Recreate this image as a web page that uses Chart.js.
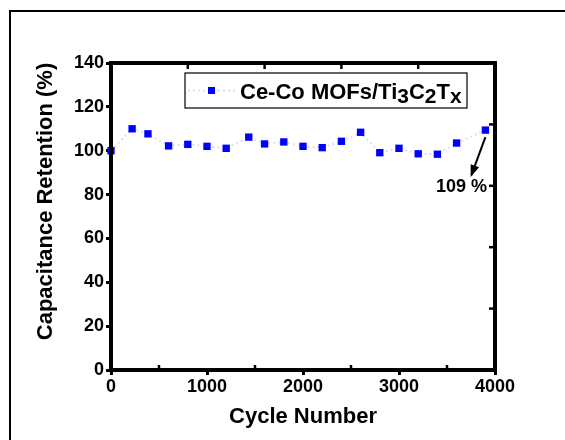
<!DOCTYPE html>
<html><head><meta charset="utf-8">
<script src="https://cdn.jsdelivr.net/npm/chart.js@4/dist/chart.umd.min.js"></script>
<style>html,body{margin:0;padding:0;background:#fff}#wrap{width:565px;height:440px}</style>
</head><body><div id="wrap"><canvas id="c" width="565" height="440"></canvas></div>
<script>
const cycles = [0, 220, 385, 600, 800, 1000, 1200, 1435, 1600, 1800, 2000, 2200, 2400, 2600, 2800, 3000, 3200, 3400, 3600, 3900];
const retention = [100, 110, 107.7, 102.2, 102.9, 102, 101.1, 106.2, 103.1, 104, 102, 101.4, 104.3, 108.4, 99.1, 101.1, 98.6, 98.4, 103.5, 109.4];
const seriesName = ['Ce-Co MOFs/Ti', '3', 'C', '2', 'T', 'x'];
const annotationText = '109 %';
const yTitle = 'Capacitance Retention (%)';
const xTitle = 'Cycle Number';

const FONT = '"Liberation Sans", Arial, sans-serif';
const lineColor = 'rgba(185,185,255,0.5)';
const pointColor = '#0000ff';

const decor = {
  id: 'decor',
  beforeDraw(chart) {
    const ctx = chart.ctx;
    ctx.save();
    ctx.fillStyle = '#fff';
    ctx.fillRect(0, 0, chart.width, chart.height);
    ctx.strokeStyle = '#000';
    ctx.lineWidth = 2;
    ctx.beginPath();
    ctx.moveTo(10, chart.height + 5);
    ctx.lineTo(10, 11);
    ctx.lineTo(chart.width + 5, 11);
    ctx.stroke();
    ctx.restore();
  },
  afterDraw(chart) {
    const ctx = chart.ctx;
    const a = chart.chartArea;
    const x = chart.scales.x, y = chart.scales.y;
    ctx.save();
    // frame
    ctx.strokeStyle = '#000';
    ctx.lineWidth = 4;
    ctx.strokeRect(a.left, a.top, a.right - a.left, a.bottom - a.top);
    // inward ticks right
    ctx.lineWidth = 2.5;
    const yR = chart.scales.yR;
    yR.ticks.forEach(t => {
      const py = yR.getPixelForValue(t.value);
      ctx.beginPath(); ctx.moveTo(a.right, py); ctx.lineTo(a.right - 6, py); ctx.stroke();
    });
    const xT = chart.scales.xT;
    xT.ticks.forEach(t => {
      const px = xT.getPixelForValue(t.value);
      ctx.beginPath(); ctx.moveTo(px, a.top); ctx.lineTo(px, a.top + 6); ctx.stroke();
    });
    // minor inward ticks bottom
    x.ticks.forEach((t, i) => {
      if (i < x.ticks.length - 1) {
        const px = x.getPixelForValue((t.value + x.ticks[i + 1].value) / 2);
        ctx.beginPath(); ctx.moveTo(px, a.bottom); ctx.lineTo(px, a.bottom - 5); ctx.stroke();
      }
    });
    // y title
    ctx.fillStyle = '#000';
    ctx.font = 'bold 22px ' + FONT;
    ctx.textAlign = 'center';
    ctx.textBaseline = 'middle';
    ctx.save();
    ctx.translate(46, (a.top + a.bottom) / 2 - 15);
    ctx.rotate(-Math.PI / 2);
    ctx.fillText(yTitle, 0, 0);
    ctx.restore();
    // legend box
    const lx = a.left + 74, ly = a.top + 10, lw = 282, lh = 35;
    ctx.lineWidth = 1.2;
    ctx.strokeRect(lx, ly, lw, lh);
    const cy = ly + lh / 2;
    ctx.strokeStyle = lineColor;
    ctx.lineWidth = 2;
    ctx.setLineDash([2, 3]);
    ctx.beginPath(); ctx.moveTo(lx + 3, cy); ctx.lineTo(lx + 50, cy); ctx.stroke();
    ctx.setLineDash([]);
    ctx.fillStyle = pointColor;
    ctx.fillRect(lx + 23, cy - 3.5, 7, 7);
    // legend text with subscripts
    ctx.fillStyle = '#000';
    ctx.textBaseline = 'alphabetic';
    ctx.textAlign = 'left';
    let tx = lx + 55;
    const base = cy + 8;
    seriesName.forEach((s, i) => {
      const sub = (i % 2 === 1);
      ctx.font = 'bold ' + (sub ? 21 : 22) + 'px ' + FONT;
      ctx.fillText(s, tx, base + (sub ? 4 : 0));
      tx += ctx.measureText(s).width;
    });
    // annotation
    const last = cycles.length - 1;
    const px = x.getPixelForValue(cycles[last]);
    const py = y.getPixelForValue(retention[last]);
    const sx = px, sy = py + 7, ex = px - 14, ey = py + 45;
    ctx.strokeStyle = '#000';
    ctx.lineWidth = 2;
    ctx.beginPath(); ctx.moveTo(sx, sy); ctx.lineTo(ex, ey); ctx.stroke();
    const ang = Math.atan2(ey - sy, ex - sx);
    ctx.fillStyle = '#000';
    ctx.beginPath();
    ctx.moveTo(ex + 2 * Math.cos(ang), ey + 2 * Math.sin(ang));
    ctx.lineTo(ex - 10 * Math.cos(ang) + 4.5 * Math.sin(ang), ey - 10 * Math.sin(ang) - 4.5 * Math.cos(ang));
    ctx.lineTo(ex - 10 * Math.cos(ang) - 4.5 * Math.sin(ang), ey - 10 * Math.sin(ang) + 4.5 * Math.cos(ang));
    ctx.closePath(); ctx.fill();
    ctx.font = 'bold 18px ' + FONT;
    ctx.textAlign = 'center';
    ctx.textBaseline = 'middle';
    ctx.fillText(annotationText, px - 24, py + 57);
    ctx.restore();
  }
};

new Chart(document.getElementById('c'), {
  type: 'scatter',
  data: {
    datasets: [{
      label: seriesName.join(''),
      data: cycles.map((c, i) => ({x: c, y: retention[i]})),
      showLine: true,
      borderColor: lineColor,
      borderWidth: 2,
      borderDash: [2, 3],
      pointStyle: 'rect',
      pointRadius: 5.2,
      pointBorderWidth: 0,
      pointBackgroundColor: pointColor,
      pointBorderColor: pointColor,
      xAxisID: 'x', yAxisID: 'y'
    }]
  },
  options: {
    responsive: false,
    animation: false,
    clip: false,
    layout: { padding: { top: 63, right: 70, left: 0, bottom: 0 } },
    plugins: { legend: { display: false }, tooltip: { enabled: false } },
    scales: {
      x: {
        type: 'linear', position: 'bottom', min: 0, max: 4000,
        ticks: { stepSize: 1000, color: '#000', font: { family: FONT, size: 18, weight: 'bold' }, padding: 1, maxRotation: 0, callback: v => String(v) },
        grid: { drawOnChartArea: false, color: '#000', tickLength: 5, tickWidth: 3, tickColor: '#000' },
        border: { display: true, color: '#000', width: 4 },
        title: { display: true, text: xTitle, color: '#000', font: { family: FONT, size: 22, weight: 'bold' }, padding: { top: 0, bottom: 10 } },
        afterFit: s => { s.height = 70; }
      },
      y: {
        type: 'linear', position: 'left', min: 0, max: 140,
        ticks: { stepSize: 20, color: '#000', font: { family: FONT, size: 18, weight: 'bold' }, padding: 2, callback: v => String(v) },
        grid: { drawOnChartArea: false, color: '#000', tickLength: 5, tickWidth: 3, tickColor: '#000' },
        border: { display: true, color: '#000', width: 4 },
        afterFit: s => { s.width = 111; }
      },
      yR: { type: 'linear', position: 'right', min: 0, max: 140, display: false, ticks: { stepSize: 28 } },
      xT: { type: 'linear', position: 'top', min: 0, max: 4000, display: false, ticks: { stepSize: 800 } }
    }
  },
  plugins: [decor]
});
</script></body></html>
